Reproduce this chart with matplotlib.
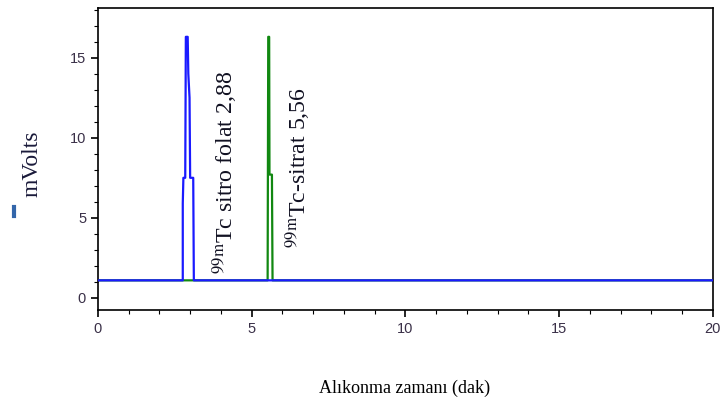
import matplotlib
matplotlib.use("Agg")
import matplotlib.pyplot as plt
from matplotlib.ticker import MultipleLocator
from matplotlib.lines import Line2D

# chromatogram traces (time in min, signal in mV)
blue_t = [0, 2.76, 2.76, 2.78, 2.84, 2.86, 2.92, 2.94, 2.98, 3.00, 3.10, 3.12, 20]
blue_v = [1.1, 1.1, 5.9, 7.5, 7.5, 16.3, 16.3, 14.0, 12.5, 7.5, 7.5, 1.1, 1.1]

green_t = [0, 5.52, 5.54, 5.57, 5.58, 5.66, 5.68, 20]
green_v = [1.1, 1.1, 16.3, 16.3, 7.7, 7.7, 1.1, 1.1]

peak_labels = [r"$^{\mathrm{99m}}$Tc sitro folat 2,88", r"$^{\mathrm{99m}}$Tc-sitrat 5,56"]
label_x = [4.15, 6.5]
label_y = [1.5, 3.1]

xticks = [0, 5, 10, 15, 20]
yticks = [0, 5, 10, 15]

plt.rcParams["mathtext.fontset"] = "stix"

fig = plt.figure(figsize=(7.2, 4.12), dpi=100)
ax = fig.add_axes([0.136, 0.2476, 0.854, 0.733])

ax.plot(green_t, green_v, color="#118811", linewidth=1.6, zorder=2)
ax.plot(blue_t, blue_v, color="#1a1aff", linewidth=1.6, zorder=3)

for txt, x, y in zip(peak_labels, label_x, label_y):
    ax.text(x, y, txt, rotation=90, ha="center", va="bottom",
            fontsize=17.2, family="Liberation Serif", color="#111122")

ax.set_xlim(0, 20)
ax.set_ylim(-0.75, 18.1)
ax.set_xticks(xticks)
ax.set_yticks(yticks)
ax.xaxis.set_minor_locator(MultipleLocator(1))
ax.yaxis.set_minor_locator(MultipleLocator(1))
ax.tick_params(which="major", length=5, width=1.2, direction="out",
               labelsize=10.5, labelcolor="#3a3048")
ax.tick_params(which="minor", length=3, width=0.8, direction="out")
for lab in ax.get_xticklabels() + ax.get_yticklabels():
    lab.set_family("Liberation Sans")
for sp in ax.spines.values():
    sp.set_linewidth(1.2)

fig.text(32 / 720, 1 - 164 / 412, "mVolts", rotation=90, ha="center", va="center",
         fontsize=17, family="Liberation Serif", color="#1a1a3a")
fig.add_artist(Line2D([14 / 720, 14 / 720], [1 - 207 / 412, 1 - 216 / 412],
                      color="#3366aa", linewidth=3))

fig.text(405 / 720, 24 / 412, "Alıkonma zamanı (dak)", ha="center", va="center",
         fontsize=13, family="Liberation Serif")

fig.savefig("out.png", dpi=100)
